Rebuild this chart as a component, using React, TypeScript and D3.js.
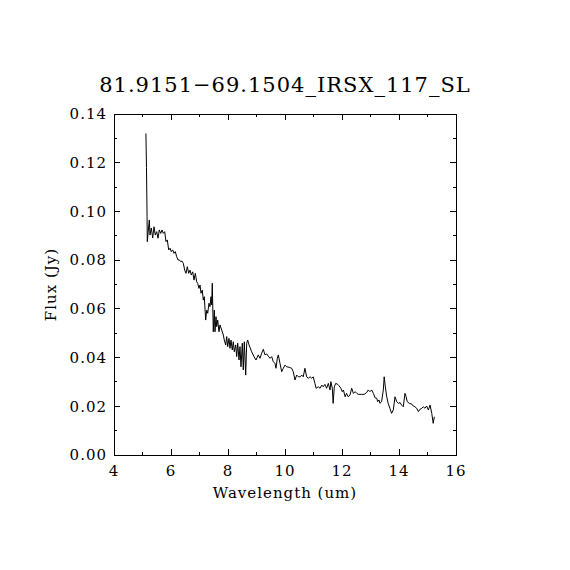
import { useMemo } from "react";
import * as d3 from "d3";

const TITLE = "81.9151\u221269.1504_IRSX_117_SL";
const X_LABEL = "Wavelength (um)";
const Y_LABEL = "Flux (Jy)";

const xMajorTicks = [4, 6, 8, 10, 12, 14, 16];
const yMajorTicks = [0, 0.02, 0.04, 0.06, 0.08, 0.1, 0.12, 0.14];

// spectrum
const wavelength = [
  5.12, 5.14, 5.16, 5.168, 5.239, 5.263, 5.309, 5.358, 5.404, 5.449, 5.498, 5.544, 5.589, 5.639,
  5.684, 5.73, 5.779, 5.825, 5.87, 5.919, 5.965, 6.011, 6.06, 6.105, 6.151, 6.2, 6.246, 6.291,
  6.34, 6.386, 6.432, 6.481, 6.526, 6.572, 6.621, 6.667, 6.712, 6.761, 6.807, 6.853, 6.902,
  6.936, 6.982, 7.018, 7.053, 7.098, 7.133, 7.168, 7.217, 7.253, 7.288, 7.333, 7.368, 7.404,
  7.428, 7.449, 7.484, 7.519, 7.544, 7.579, 7.603, 7.638, 7.684, 7.719, 7.779, 7.835, 7.87,
  7.919, 7.954, 7.989, 8.035, 8.07, 8.105, 8.151, 8.186, 8.221, 8.27, 8.305, 8.34, 8.386, 8.421,
  8.456, 8.502, 8.537, 8.572, 8.621, 8.656, 8.691, 8.737, 8.807, 8.83, 8.912, 8.982, 9.063,
  9.123, 9.182, 9.239, 9.298, 9.358, 9.414, 9.474, 9.533, 9.589, 9.649, 9.684, 9.73, 9.765,
  9.825, 9.884, 9.94, 10.0, 10.06, 10.15, 10.235, 10.29, 10.35, 10.41, 10.47, 10.53, 10.59,
  10.64, 10.7, 10.76, 10.82, 10.88, 10.94, 10.99, 11.05, 11.09, 11.17, 11.23, 11.29, 11.34,
  11.4, 11.46, 11.52, 11.58, 11.61, 11.66, 11.69, 11.73, 11.78, 11.85, 11.89, 11.96, 12.01,
  12.05, 12.11, 12.16, 12.22, 12.28, 12.34, 12.4, 12.46, 12.52, 12.57, 12.69, 12.78, 12.87,
  12.92, 12.98, 13.04, 13.1, 13.16, 13.22, 13.25, 13.3, 13.33, 13.39, 13.45, 13.48, 13.52,
  13.57, 13.62, 13.68, 13.74, 13.8, 13.86, 13.92, 13.98, 14.04, 14.09, 14.15, 14.21, 14.25,
  14.29, 14.36, 14.45, 14.5, 14.56, 14.62, 14.68, 14.74, 14.8, 14.85, 14.91, 14.97, 15.03,
  15.09, 15.15, 15.2, 15.24,
];

const flux = [
  0.132, 0.118, 0.098, 0.0876, 0.0965, 0.0903, 0.0932, 0.0891, 0.0937, 0.0903, 0.0917, 0.089,
  0.0924, 0.091, 0.0924, 0.091, 0.0917, 0.0876, 0.0883, 0.0842, 0.0849, 0.0835, 0.0842, 0.0828,
  0.0835, 0.0814, 0.0801, 0.0801, 0.0794, 0.0796, 0.0787, 0.0759, 0.0746, 0.0773, 0.0746,
  0.0759, 0.0739, 0.0752, 0.0718, 0.0746, 0.0711, 0.0705, 0.0684, 0.0698, 0.0664, 0.0677,
  0.0636, 0.065, 0.0554, 0.0595, 0.0582, 0.0623, 0.0609, 0.065, 0.0616, 0.0705, 0.0506, 0.0595,
  0.0506, 0.0568, 0.0527, 0.0554, 0.0506, 0.0534, 0.0513, 0.0493, 0.0472, 0.0452, 0.0486,
  0.0445, 0.0479, 0.0438, 0.0472, 0.0431, 0.0465, 0.0424, 0.0452, 0.0404, 0.0459, 0.039, 0.0445,
  0.0362, 0.0459, 0.0349, 0.0465, 0.0328, 0.0459, 0.0472, 0.0452, 0.0431, 0.0424, 0.0404, 0.039,
  0.0411, 0.0397, 0.0418, 0.0434, 0.0411, 0.0415, 0.0406, 0.0397, 0.0404, 0.0383, 0.0376,
  0.0356, 0.0397, 0.0411, 0.0376, 0.0342, 0.0356, 0.0369, 0.0362, 0.036, 0.0356, 0.0342, 0.0308,
  0.0328, 0.0321, 0.0321, 0.0328, 0.0321, 0.0356, 0.0321, 0.0315, 0.0321, 0.0315, 0.0321,
  0.0294, 0.0274, 0.028, 0.0274, 0.0287, 0.028, 0.029, 0.0274, 0.0294, 0.0267, 0.0301, 0.0274,
  0.0212, 0.028, 0.0294, 0.029, 0.0285, 0.0274, 0.026, 0.0267, 0.0239, 0.0253, 0.0239, 0.0246,
  0.0274, 0.0253, 0.026, 0.0253, 0.0249, 0.0249, 0.0249, 0.0257, 0.0267, 0.026, 0.0267, 0.0253,
  0.0235, 0.0233, 0.0219, 0.0226, 0.0212, 0.0219, 0.0267, 0.0321, 0.028, 0.0239, 0.0212, 0.0192,
  0.0171, 0.0185, 0.0239, 0.0219, 0.0212, 0.0215, 0.0205, 0.0198, 0.0253, 0.0239, 0.0219,
  0.0212, 0.0209, 0.0201, 0.0198, 0.0192, 0.0178, 0.0188, 0.0192, 0.0198, 0.0192, 0.0201,
  0.0185, 0.0205, 0.0171, 0.013, 0.0157,
];

const FONT = "'DejaVu Serif', 'Liberation Serif', serif";

function App() {
  const width = 570;
  const height = 570;
  const left = 114;
  const right = 456;
  const top = 114;
  const bottom = 455;
  const major = 6;
  const minor = 3;

  const x = useMemo(() => d3.scaleLinear().domain([4, 16]).range([left, right]), []);
  const y = useMemo(() => d3.scaleLinear().domain([0, 0.14]).range([bottom, top]), []);

  const points = wavelength.map((w, i) => [w, flux[i]] as [number, number]);
  const line = d3
    .line<[number, number]>()
    .x((d) => x(d[0]))
    .y((d) => y(d[1]));

  // minor ticks every 1 um and every 0.01 Jy
  const xMinor = x.ticks(12).filter((t) => !xMajorTicks.includes(t));
  const yMinor = y.ticks(14).filter((t) => !yMajorTicks.some((m) => Math.abs(m - t) < 1e-9));

  return (
    <div style={{ position: "absolute", left: 0, top: 0 }}>
      <svg width={width} height={height} style={{ display: "block", background: "#fff" }}>
        <rect x={0} y={0} width={width} height={height} fill="#fff" />

        {/* frame */}
        <rect
          x={left}
          y={top}
          width={right - left}
          height={bottom - top}
          fill="none"
          stroke="#000"
          strokeWidth={1}
          shapeRendering="crispEdges"
        />

        {/* x ticks, top and bottom, inward */}
        <g stroke="#000" strokeWidth={1} shapeRendering="crispEdges">
          {xMajorTicks.map((t) => (
            <g key={"xM" + t}>
              <line x1={x(t)} x2={x(t)} y1={bottom} y2={bottom - major} />
              <line x1={x(t)} x2={x(t)} y1={top} y2={top + major} />
            </g>
          ))}
          {xMinor.map((t) => (
            <g key={"xm" + t}>
              <line x1={x(t)} x2={x(t)} y1={bottom} y2={bottom - minor} />
              <line x1={x(t)} x2={x(t)} y1={top} y2={top + minor} />
            </g>
          ))}
          {yMajorTicks.map((t) => (
            <g key={"yM" + t}>
              <line x1={left} x2={left + major} y1={y(t)} y2={y(t)} />
              <line x1={right} x2={right - major} y1={y(t)} y2={y(t)} />
            </g>
          ))}
          {yMinor.map((t) => (
            <g key={"ym" + t}>
              <line x1={left} x2={left + minor} y1={y(t)} y2={y(t)} />
              <line x1={right} x2={right - minor} y1={y(t)} y2={y(t)} />
            </g>
          ))}
        </g>

        {/* tick labels */}
        <g fontFamily={FONT} fontSize={15} fill="#000" letterSpacing={1}>
          {xMajorTicks.map((t) => (
            <text key={"xl" + t} x={x(t)} y={bottom + 21} textAnchor="middle">
              {String(t)}
            </text>
          ))}
          {yMajorTicks.map((t) => (
            <text key={"yl" + t} x={left - 7} y={y(t)} dy="0.35em" textAnchor="end">
              {t.toFixed(2)}
            </text>
          ))}
        </g>

        {/* spectrum */}
        <path d={line(points) ?? ""} fill="none" stroke="#000" strokeWidth={1} />

        {/* titles */}
        <text
          x={(left + right) / 2}
          y={92}
          textAnchor="middle"
          fontFamily={FONT}
          fontSize={21}
          letterSpacing={1}
        >
          {TITLE}
        </text>
        <text
          x={(left + right) / 2}
          y={498}
          textAnchor="middle"
          fontFamily={FONT}
          fontSize={15}
          letterSpacing={1}
        >
          {X_LABEL}
        </text>
        <text
          transform={`translate(56, ${(top + bottom) / 2}) rotate(-90)`}
          textAnchor="middle"
          fontFamily={FONT}
          fontSize={15}
          letterSpacing={1}
        >
          {Y_LABEL}
        </text>
      </svg>
    </div>
  );
}

export default App;
